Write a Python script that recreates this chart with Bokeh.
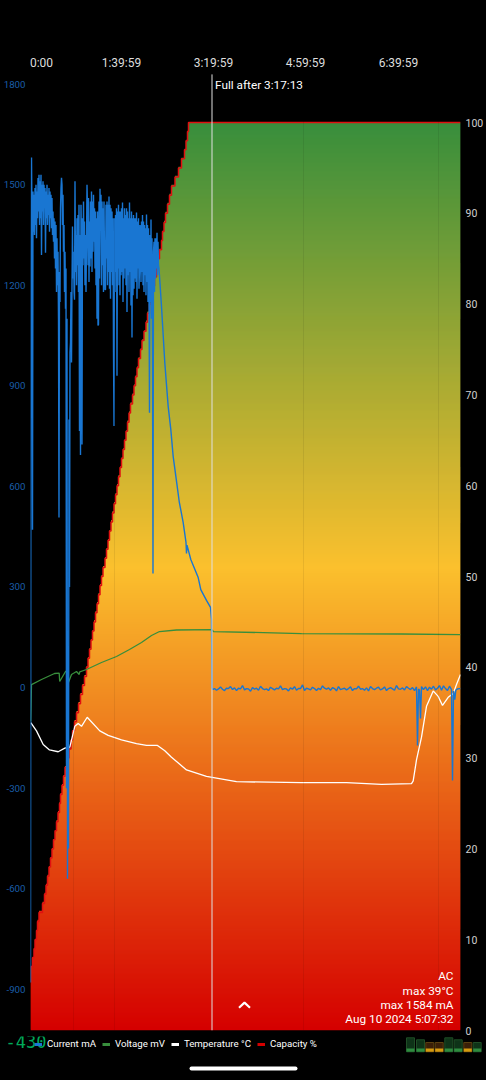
from bokeh.plotting import figure
from bokeh.layouts import column
from bokeh.models import (Range1d, LinearAxis, FixedTicker, Label, Legend, LegendItem, Span)
from bokeh.core.properties import value
from bokeh.embed import file_html
from bokeh.resources import INLINE

# x unit = one log sample (about 65 s)
X_MAX = 430
TICK_POS = [11, 91, 183, 275, 368]
TICK_LABELS = ["0:00", "1:39:59", "3:19:59", "4:59:59", "6:39:59"]
MA_TICKS = [-900, -600, -300, 0, 300, 600, 900, 1200, 1500, 1800]
PCT_TICKS = [0, 10, 20, 30, 40, 50, 60, 70, 80, 90, 100]
FULL_AT = 181.5
FAINT_MARKS = [43, 84, 273, 408]

CAP_PCT = [7, 8, 9, 10, 11, 12, 13, 14, 15, 16, 17, 18, 19, 20, 21, 22, 23, 24, 25, 26, 27, 28, 29, 30, 31, 32,
           33, 34, 35, 36, 37, 38, 39, 40, 41, 42, 43, 44, 45, 46, 47, 48, 49, 50, 51, 52, 53, 54, 55, 56, 57, 58,
           59, 60, 61, 62, 63, 64, 65, 66, 67, 68, 69, 70, 71, 72, 73, 74, 75, 76, 77, 78, 79, 80, 81, 82, 83, 84,
           85, 86, 87, 88, 89, 90, 91, 92, 93, 94, 95, 96, 97, 98, 99, 100]
CAP_T = [0.5, 2, 3.5, 4.5, 6, 7, 8.5, 12, 14, 15.5, 17, 18.5, 20, 21.5, 23, 24.5, 26, 27.5, 29, 30, 31.5, 33, 34.5,
         36.5, 38.5, 40.5, 42, 44, 46, 48, 50, 52, 54, 56, 57.5, 59, 60.5, 62, 63.5, 65, 66.5, 68, 69.5, 71, 72.5,
         74.5, 76, 77.5, 79, 80.5, 82, 83.5, 85, 86.5, 88, 89.5, 91, 92.5, 94, 95.5, 97, 98.5, 100, 102, 103.5, 105,
         106.5, 108, 110, 111.5, 113.5, 115.5, 117, 119, 121, 122.5, 124, 126, 127.5, 129, 131, 132, 133.5, 135,
         137, 139, 141, 144.5, 148, 151, 154, 155.5, 157, 158]

TEMP_T = [0.3, 6, 12.7, 19, 27.7, 34.3, 39.3, 44.3, 47.7, 51, 56.7, 69.3, 77.7, 91, 106, 116, 127, 134.3, 141, 156,
          176, 206, 271, 316, 351, 381, 382.7, 386, 391, 396, 402.7, 407.7, 412, 417.7, 422.7, 426, 430]
TEMP_C = [33.9, 33.0, 31.5, 30.9, 30.7, 31.1, 31.2, 33.5, 33.8, 33.5, 34.5, 33.0, 32.5, 32.0, 31.6, 31.4, 31.4, 30.8,
          30.1, 28.7, 28.0, 27.4, 27.3, 27.3, 27.1, 27.2, 27.5, 29.8, 32.3, 35.7, 37.4, 36.8, 35.8, 36.7, 37.1,
          38.1, 39.2]

VOLT_T = [0.2, 0.5, 1, 11, 24, 28.7, 29.2, 35, 36.7, 37.2, 41, 46, 48.7, 49.2, 56, 71, 86, 99, 111, 121, 129, 146,
          181, 183, 271, 371, 430]
VOLT_MV = [3403, 3535, 3810, 3866, 3932, 3935, 3844, 3954, 3954, 3810, 3921, 3954, 3921, 3950, 3976, 4053, 4119, 4196,
           4273, 4350, 4394, 4411, 4416, 4394, 4372, 4367, 4361]

BUSY_MA = [
    -880, 1250, 1581, 1400, 471, 1480, 1360, 1470, 1350, 1490, 1380, 1500, 1340, 1480, 1400, 1520, 1420, 1530, 1380, 1510,
    1400, 1530, 1290, 1500, 1420, 1510, 1380, 1500, 1430, 1490, 1297, 1480, 1400, 1500, 1380, 1470, 1410, 1490, 1360, 1480,
    1400, 1470, 1370, 1460, 1350, 1420, 1330, 1400, 1280, 1390, 1250, 1380, 1180, 1340, 1200, 1300, 1100, 507, 1240, 1150,
    1430, 1490, 1521, 1500, 1380, 1470, 1300, 1380, 1180, 1300, 1130, 1250, -300, 1100, -570, -100, -480, 800, 300, 1000,
    1030, 1180, 970, 1200, 1375, 1220, 1300, 1180, 1157, 1510, 1240, 1350, 1200, 1400, 1260, 1410, 1180, 1440, 765, 1350,
    694, 1440, 1300, 725, 1400, 1260, 1450, 1280, 1390, 1200, 1350, 1180, 1330, 1500, 1430, 1260, 1460, 1210, 1390, 1256,
    1450, 1280, 1480, 1240, 1450, 1300, 1470, 1330, 1430, 1250, 1420, 1200, 1400, 1100, 1420, 1080, 1083, 1450, 1220, 1488,
    1380, 1470, 1200, 1450, 1260, 1430, 1180, 1450, 1290, 1187, 1187, 1440, 1280, 1450, 1200, 1440, 1240, 1465, 1190, 1440,
    1160, 1430, 1240, 1420, 1200, 1400, 1000, 780, 1400, 1180, 1410, 1240, 1430, 930, 1420, 1250, 1440, 1200, 1420, 1170,
    1420, 1230, 1430, 1240, 1447, 1150, 1400, 1220, 1430, 1250, 1410, 1200, 1430, 1120, 1420, 1230, 1400, 1180, 1447, 1240,
    1400, 1140, 1420, 1044, 1400, 1170, 1410, 1190, 1400, 1220, 1400, 1210, 1417, 1160, 1390, 1250, 1400, 1190, 1247, 1380,
    1320, 1210, 1390, 1240, 1410, 1200, 1390, 1180, 1380, 1230, 1370, 1170, 1411, 1210, 1380, 1150, 1370, 1180, 820, 1350,
    1150, 1396, 1100, 1340, 1000, 340, 1300, 1330, 1180, 1340, 1220, 1340, 1250, 1357, 1230, 1330, 1260, 1250]
DECAY_T = [131, 134.3, 137.7, 140.3, 142.7, 146.7, 148.7, 152.7, 155.5, 156, 156.5, 160.3, 167.7, 170.3, 176, 180, 181, 181.5]
DECAY_MA = [1137, 969, 838, 770, 689, 600, 555, 492, 433, 400, 425, 382, 328, 292, 260, 239, 203, 0]
QUIET_MA = [-6, -3, -8, -4, 2, -5, -9, -2, -3, 3, -6, -1, -9, -2, -4, 6, -7, -3, -4, -11, 0, -5, -2, -8, 4, -3, -6, -4, -9, 1,
            -3, -7, -2, -4, 5, -6, -3, -4, -10, -1, -5, 3, -8, -3, -3, 8, -9, -2, -4, -7, 1, -3, -9, -2, -6, 5, -2, -5, -1, -8,
            0, -3, -10, 3, -6, -4, -2, -7, -3, 2, -9, -3, -4, 4, -5, -3, -8, -1, -10, 3, -3, -6, -2, 1, -7, -4, 2, -9, -3, 0,
            -4, -8, 6, -4, -5, -1, -7, 3, -2, -6, 0, -9, 2]
TAIL_T = [387, 388, 389, 390, 391, 393, 395, 397, 399, 401, 403, 405, 407, 409, 411, 413, 415, 417, 419, 421, 422, 423, 424.3, 425.3, 427, 430]
TAIL_MA = [-173, -4, -8, -92, 3, -6, 2, -9, 1, -5, 4, -7, -2, 6, -8, 5, -3, -9, 4, -6, -277, -10, -36, -8, -4, -3]

CUR_T = [i * 0.5 for i in range(len(BUSY_MA))] + DECAY_T + [182 + 2 * i for i in range(len(QUIET_MA))] + TAIL_T
CUR_MA = BUSY_MA + DECAY_MA + QUIET_MA + TAIL_MA

READOUT = ["AC", "max 39°C", "max 1584 mA", "Aug 10 2024 5:07:32"]
FULL_TEXT = "Full after 3:17:13"
NOW_TEXT = "-430"
LEGEND_NAMES = ["Current mA", "Voltage mV", "Temperature °C", "Capacity %"]
LEGEND_COLORS = ["#1976d2", "#388e3c", "#ffffff", "#d50000"]
MINI_LEFT = [406, 416, 425.3, 434.7, 444.3, 453.7, 463.3, 472.7]
MINI_TOP = [1037.3, 1039.3, 1042, 1042, 1037.3, 1039.3, 1042, 1042]
MINI_KIND = ["g", "g", "a", "a", "g", "g", "a", "g"]

GRAD = [(0, (213, 0, 0)), (51, (251, 192, 45)), (100, (56, 142, 60))]


def grad(level):
    for (a, ca), (b, cb) in zip(GRAD, GRAD[1:]):
        if level <= b:
            f = (level - a) / (b - a)
            return "#%02x%02x%02x" % tuple(round(u + (v - u) * f) for u, v in zip(ca, cb))
    return "#388e3c"


PCT_TOP = 105.84
MA_TOP = 1843.7
MA_BOT = -1023.0

p = figure(frame_width=430, frame_height=961, output_backend="svg", toolbar_location=None,
           x_range=Range1d(0, X_MAX), y_range=Range1d(MA_BOT, MA_TOP),
           background_fill_color="#000000", border_fill_color="#000000", outline_line_color="#000000",
           min_border_left=28, min_border_right=28, min_border_top=69, min_border_bottom=6,
           x_axis_location=None, y_axis_location=None, frame_align=False)
p.grid.visible = False
p.extra_y_ranges["pct"] = Range1d(0, PCT_TOP)

# Gradient area beneath the capacity staircase
levels = [i * 0.11 for i in range(int(100 / 0.11) + 1)]
lefts, bottoms, tops, cols = [], [], [], []
for lv in levels:
    t = next((ct for ct, c in zip(CAP_T, CAP_PCT) if c >= lv + 0.0001), CAP_T[-1])
    if lv < CAP_PCT[0]:
        t = 0
    lefts.append(t)
    bottoms.append(lv)
    tops.append(min(lv + 0.2, 100))
    cols.append(grad(lv + 0.055))
p.quad(left=lefts, right=[X_MAX] * len(levels), bottom=bottoms, top=tops, fill_color=cols, line_color=None,
       y_range_name="pct")

for m in FAINT_MARKS:
    p.add_layout(Span(location=m, dimension="height", line_color="#000000", line_alpha=0.07, line_width=1))

p.step(CAP_T + [X_MAX], CAP_PCT + [100], mode="after", line_color="#e01010", line_width=1.5, y_range_name="pct")
p.line(VOLT_T, [v / 100 for v in VOLT_MV], line_color="#388e3c", line_width=1.3, y_range_name="pct")
p.line(TEMP_T, TEMP_C, line_color="#ffffff", line_width=1.3, y_range_name="pct")
p.line(CUR_T, CUR_MA, line_color="#1976d2", line_width=1.4)

p.line([FULL_AT, FULL_AT], [0, 105.3], line_color="#e0e0e0", line_width=1, y_range_name="pct")

# Chevron handle
p.line([208.5, 214, 219.5], [MA_BOT + 68, MA_BOT + 83, MA_BOT + 68], line_color="#ffffff", line_width=2.2)

# Axes
NO_TICKS = dict(axis_line_color=None, major_tick_line_color=None, minor_tick_line_color=None,
                major_tick_out=0, major_tick_in=0, minor_tick_out=0, minor_tick_in=0)
top_ax = LinearAxis(ticker=FixedTicker(ticks=TICK_POS),
                    major_label_overrides={a: b for a, b in zip(TICK_POS, TICK_LABELS)},
                    major_label_text_color="#dddddd", major_label_text_font="Roboto",
                    major_label_text_font_size="12px", major_label_standoff=0, **NO_TICKS)
p.add_layout(top_ax, "above")
left_ax = LinearAxis(ticker=FixedTicker(ticks=MA_TICKS), major_label_overrides={m: str(m) for m in MA_TICKS},
                     major_label_text_color="#1a5ea8", major_label_text_font="Roboto",
                     major_label_text_font_size="9.7px", major_label_standoff=5, **NO_TICKS)
p.add_layout(left_ax, "left")
right_ax = LinearAxis(y_range_name="pct", ticker=FixedTicker(ticks=PCT_TICKS), major_label_text_color="#d0d0d0",
                      major_label_text_font="Roboto", major_label_text_font_size="10.5px", major_label_standoff=5,
                      **NO_TICKS)
p.add_layout(right_ax, "right")

# Texts inside the plot
p.add_layout(Label(x=FULL_AT + 3, y=104.12, y_range_name="pct", text=FULL_TEXT, text_color="#ffffff",
                   text_font="Roboto", text_font_size="11.8px", text_baseline="middle"))
for txt, lvl in zip(READOUT, [5.95, 4.35, 2.8, 1.25]):
    p.add_layout(Label(x=423, y=lvl, y_range_name="pct", text=txt, text_color="#ffffff", text_font="Roboto",
                       text_font_size="11.8px", text_align="right", text_baseline="middle"))

# Bottom strip, in page pixels: legend, live reading, mini bars, home bar
s = figure(frame_width=486, frame_height=44, output_backend="svg", toolbar_location=None,
           x_range=Range1d(0, 486), y_range=Range1d(1080, 1036),
           background_fill_color="#000000", border_fill_color="#000000", outline_line_color=None,
           min_border=0, x_axis_location=None, y_axis_location=None, frame_align=False)
s.grid.visible = False
# Legend keys: drawn off the visible range, only their swatches appear
proxies = [s.line(x=[-20, -10], y=[1060, 1060], line_color=c, line_width=3) for c in LEGEND_COLORS]
legend = Legend(items=[LegendItem(label=n, renderers=[r]) for n, r in zip(LEGEND_NAMES, proxies)],
                orientation="horizontal", location=(34, 31), background_fill_alpha=0, border_line_color=None,
                label_text_color="#ffffff", label_text_font="Roboto", label_text_font_size="9.7px",
                glyph_width=8, glyph_height=8, label_standoff=5, spacing=6, padding=1, margin=0, label_height=11)
s.add_layout(legend)
s.text(x=[5], y=[1041], text=[NOW_TEXT], text_color="#00a85a", text_font=value("DejaVu Sans Mono"),
       text_font_size="17px", text_baseline="middle")
DIM = {"g": "#0e3318", "a": "#3a1f08"}
EDGE = {"g": "#1f4d26", "a": "#5a4010"}
BRIGHT = {"g": "#2e8b3f", "a": "#d49a10"}
s.quad(left=MINI_LEFT, right=[a + 8 for a in MINI_LEFT], top=MINI_TOP, bottom=[1051.3] * 8,
       fill_color=[DIM[k] for k in MINI_KIND], line_color=[EDGE[k] for k in MINI_KIND])
s.quad(left=MINI_LEFT, right=[a + 8 for a in MINI_LEFT], top=[1048] * 8, bottom=[1051.3] * 8,
       fill_color=[BRIGHT[k] for k in MINI_KIND], line_color=None)
s.line([191, 295], [1068, 1068], line_color="#ffffff", line_width=4, line_cap="round")

layout = column(p, s, spacing=0, styles={"position": "fixed", "left": "0px", "top": "0px", "background-color": "#000000"})
open("out.html", "w").write(file_html(layout, INLINE))
